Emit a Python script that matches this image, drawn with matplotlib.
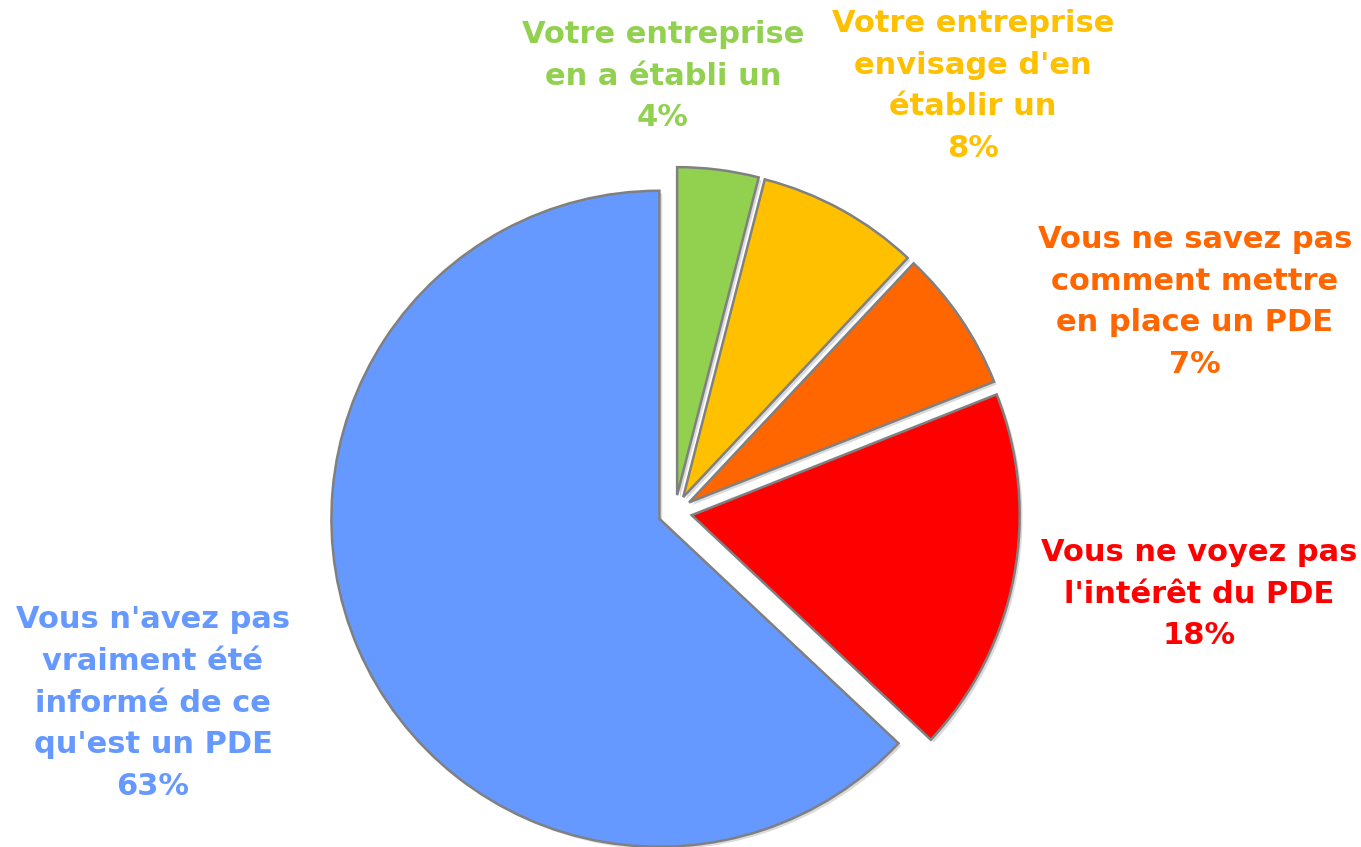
import matplotlib
matplotlib.use('Agg')
import matplotlib.pyplot as plt
from matplotlib import patheffects


labels = [
    "Votre entreprise\nen a établi un",
    "Votre entreprise\nenvisage d'en\nétablir un",
    "Vous ne savez pas\ncomment mettre\nen place un PDE",
    "Vous ne voyez pas\nl'intérêt du PDE",
    "Vous n'avez pas\nvraiment été\ninformé de ce\nqu'est un PDE",
]
shares = [4, 8, 7, 18, 63]
colors = ['#92D050', '#FFC000', '#FF6600', '#FF0000', '#6699FF']

# label positions (pixel layout, y measured from top)
label_xy = [(663, 76), (973, 86), (1195, 302), (1199, 594), (153, 703)]


def main():
    W, H = 1361, 847
    R = 328
    fig = plt.figure(figsize=(W / 100, H / 100), dpi=100)
    ax = fig.add_axes([0, 0, 1, 1])

    # explode is in data units here (pixels)
    wedges, _ = ax.pie(
        shares,
        colors=colors,
        startangle=90,
        counterclock=False,
        explode=[17] * len(shares),
        center=(675, H - 512),
        radius=R,
        frame=True,
        wedgeprops=dict(edgecolor='#808080', linewidth=1.8),
    )
    for w in wedges:
        w.set_path_effects([
            patheffects.SimplePatchShadow(offset=(2, -2), shadow_rgbFace='#999999', alpha=0.35),
            patheffects.Normal(),
        ])
    ax.set_xlim(0, W)
    ax.set_ylim(0, H)
    ax.set_aspect('equal')
    ax.axis('off')

    for lab, val, col, (x, y) in zip(labels, shares, colors, label_xy):
        ax.text(x, H - y, f'{lab}\n{val}%', color=col, fontsize=22, fontweight='bold',
                ha='center', va='center', linespacing=1.55, family='DejaVu Sans')

    fig.savefig('out.png', dpi=100)
    plt.close(fig)


if __name__ == '__main__':
    main()
